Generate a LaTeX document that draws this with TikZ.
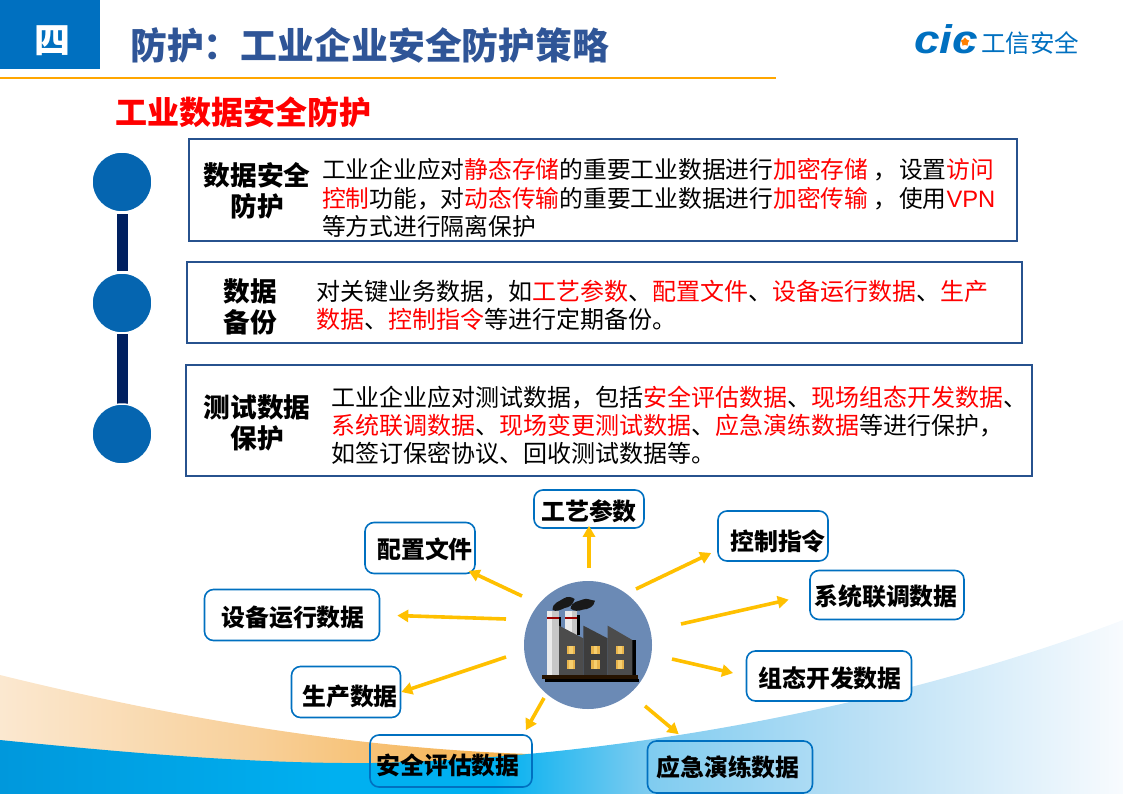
\documentclass[tikz,border=0pt]{standalone}
\usepackage{fontspec}
\usepackage{xcolor}
\setmainfont{Noto Sans CJK SC}
\newfontfamily\logofont{Liberation Sans}
\usetikzlibrary{positioning, arrows.meta, shapes.geometric, calc}
\definecolor{headblue}{HTML}{0070C0}
\definecolor{titleblue}{HTML}{2F5597}
\definecolor{rowblue}{HTML}{27528E}
\definecolor{linkyellow}{HTML}{FFC000}
\definecolor{dotblue}{HTML}{0565B0}
\definecolor{navybar}{HTML}{002060}
\definecolor{hubblue}{HTML}{6B8AB5}
\definecolor{winlight}{HTML}{F6CE6E}
\definecolor{windark}{HTML}{E8B44C}
\definecolor{wavea}{HTML}{0098DC}
\definecolor{waveb}{HTML}{00B0F0}
\definecolor{wavec}{HTML}{80CCF0}
\definecolor{waved}{HTML}{B8DFF5}
\definecolor{wavee}{HTML}{F8FBFE}
\definecolor{orangea}{HTML}{FBE8D0}
\definecolor{orangeb}{HTML}{F8D09A}
\definecolor{orangec}{HTML}{F5AE45}
\pgfdeclarehorizontalshading{seawave}{100bp}{color(0bp)=(wavea);color(25bp)=(wavea);color(40bp)=(waveb);color(47bp)=(waveb);color(54bp)=(wavec);color(63bp)=(waved);color(75bp)=(wavee);color(100bp)=(wavee)}
\pgfdeclarehorizontalshading{sandwave}{100bp}{color(0bp)=(orangea);color(25bp)=(orangea);color(49bp)=(orangeb);color(75bp)=(orangec);color(100bp)=(orangec)}
\newcommand{\redt}[1]{\textcolor{red}{#1}}
\newcommand{\fsize}[2]{\fontsize{#1}{#2}\selectfont}
\begin{document}
\begin{tikzpicture}[
  x=1pt, y=-1pt,
  font=\fsize{24}{28},
  rowbox/.style={draw=rowblue, line width=2.7pt, fill=white},
  rowhead/.style={font=\fsize{26.7}{31}\bfseries, align=center},
  rowtext/.style={anchor=west, align=left, inner sep=0pt},
  dot/.style={circle, draw=white, line width=1.5pt, fill=dotblue, minimum size=60pt, inner sep=0pt},
  databox/.style={draw=headblue, line width=1.6pt, rounded corners=9pt, fill=white, inner sep=0pt},
  datalabel/.style={font=\fsize{23.9}{26}\bfseries, inner sep=0pt},
  flow/.style={draw=linkyellow, line width=3.6pt, -{Triangle[length=11pt,width=12pt]}}
]
\useasboundingbox (0,0) rectangle (1123,794);

% background waves
\shade[shading=sandwave] (0,675) .. controls (150,712) and (340,748) .. (530,754) -- (530,770) -- (0,770) -- cycle;
\shade[shading=seawave] (0,740) .. controls (120,752) and (250,764) .. (372,763) .. controls (620,758) and (900,705) .. (1123,620) -- (1123,794) -- (0,794) -- cycle;

% header
\fill[headblue] (0,0) rectangle (100,69);
\node[font=\fsize{36}{36}\bfseries, text=white] (numbox) at (52,41) {四};
\node[anchor=west, inner sep=0pt, font=\fsize{36.85}{40}\bfseries, text=titleblue] (title) at (130,45) {防护：工业企业安全防护策略};
\draw[draw=orange!70!yellow, line width=2pt] (0,78) -- (776,78);
\node[anchor=west, inner sep=0pt, font=\fsize{32}{36}\bfseries, text=red] (subtitle) at (115,112) {工业数据安全防护};

% logo
\node[anchor=base west, inner sep=0pt, font=\logofont\fsize{40}{40}\bfseries\itshape, text=headblue] (logo) at (914,54) {\scalebox{1.15}[1]{cic}};
\node[anchor=west, inner sep=0pt, font=\fsize{24.5}{26}, text=headblue] (logotext) at (981,43) {工信安全};
\node[star, star points=5, fill=orange, minimum size=9pt, inner sep=0pt] (logostar) at (965,42) {};

% timeline
\fill[navybar] (117,214) rectangle (128,271);
\fill[navybar] (117,334) rectangle (128,404);
\node[dot] (dotA) at (122,182) {};
\node[dot] (dotB) at (122,303) {};
\node[dot] (dotC) at (122,434) {};

% row boxes
\draw[rowbox] (189,139) rectangle (1017,241);
\draw[rowbox] (187,262) rectangle (1022,343);
\draw[rowbox] (186,365) rectangle (1032,476);

\node[rowhead] (headA) at (257,191) {数据安全\\防护};
\node[rowtext, font=\fsize{23.75}{28.5}] (textA) at (322,198) {工业企业应对\redt{静态存储}的重要工业数据进行\redt{加密存储} ，\hspace{1.5pt}设置\redt{访问}\\\redt{控制}功能，对\redt{动态传输}的重要工业数据进行\redt{加密传输} ，\hspace{1.5pt}使用\redt{\logofont VPN}\\等方式进行隔离保护};

\node[rowhead] (headB) at (250,307) {数据\\备份};
\node[rowtext] (textB) at (316,305) {对关键业务数据，如\redt{工艺参数}、\redt{配置文件}、\redt{设备运行数据}、\redt{生产}\\\redt{数据}、\redt{控制指令}等进行定期备份。};

\node[rowhead] (headC) at (257,423) {测试数据\\保护};
\node[rowtext] (textC) at (331,425) {工业企业应对测试数据，包括\redt{安全评估数据}、\redt{现场组态开发数据}、\\\redt{系统联调数据}、\redt{现场变更测试数据}、\redt{应急演练数据}等进行保护，\\如签订保密协议、回收测试数据等。};

% data boxes
\node[databox, minimum width=110pt, minimum height=38pt] (gongyi) at (589,509) {};
\node[databox, minimum width=110pt, minimum height=51pt] (peizhi) at (420,548) {};
\node[databox, minimum width=110pt, minimum height=50pt] (kongzhi) at (773,536) {};
\node[databox, minimum width=154pt, minimum height=49pt] (liantiao) at (887,595) {};
\node[databox, minimum width=175pt, minimum height=51pt] (shebei) at (292,615) {};
\node[databox, minimum width=109pt, minimum height=51pt] (shengchan) at (346,692) {};
\node[databox, minimum width=165pt, minimum height=50pt] (zutai) at (829,676) {};
\node[databox, minimum width=162pt, minimum height=52pt, fill=none] (pinggu) at (451,761) {};
\node[databox, minimum width=165pt, minimum height=52pt, fill=none] (yanlian) at (730,767) {};

% data labels
\foreach \nm/\dx/\dy/\lab in {gongyi/0/2/工艺参数, peizhi/5/1/配置文件, kongzhi/5/5/控制指令, liantiao/-1/1/系统联调数据, shebei/1/3/设备运行数据, shengchan/4/5/生产数据, zutai/1/2/组态开发数据, pinggu/-3/4/安全评估数据, yanlian/-2/0/应急演练数据} {
  \node[datalabel] (\nm label) at ([shift={(\dx,\dy)}]\nm.center) {\lab};
}

% factory
\node[circle, fill=hubblue, minimum size=128pt, inner sep=0pt] (hub) at (588,645) {};
\begin{scope}[shift={(500,560)}, x=0.3333pt, y=-0.3333pt]
\fill[black] (177,170) rectangle (184,205);
\fill[black] (232,165) rectangle (239,225);
\fill[black] (397,240) rectangle (407,345);
\fill[black!8] (140,153) rectangle (157,345);
\fill[black!22] (157,153) rectangle (177,345);
\fill[black!8] (196,153) rectangle (215,225);
\fill[black!22] (215,153) rectangle (232,225);
\fill[red!60!black] (140,170) rectangle (177,177);
\fill[red!60!black] (196,170) rectangle (232,177);
\fill[black!70] (177,197) -- (250,235) -- (250,345) -- (177,345) -- cycle;
\fill[black!76] (250,197) -- (323,235) -- (323,345) -- (250,345) -- cycle;
\fill[black!70] (323,197) -- (397,240) -- (397,345) -- (323,345) -- cycle;
\foreach \wx in {200,273,347} {
  \foreach \wy in {257,301} {
    \fill[windark] (\wx,\wy) rectangle (\wx+26,\wy+26);
    \fill[winlight] (\wx+8,\wy) rectangle (\wx+18,\wy+26);
  }
}
\fill[black!85!orange] (125,345) rectangle (415,357);
\fill[black] (135,357) rectangle (418,367);
\fill[black!90] (158,150) .. controls (156,128) and (180,124) .. (190,116) .. controls (202,108) and (214,110) .. (224,117) .. controls (218,136) and (208,142) .. (194,144) .. controls (182,150) and (168,156) .. (158,150) -- cycle;
\fill[black!90] (212,146) .. controls (214,124) and (236,124) .. (250,118) .. controls (260,113) and (276,122) .. (285,122) .. controls (282,140) and (266,148) .. (248,149) .. controls (236,154) and (222,154) .. (212,146) -- cycle;
\end{scope}

% links
\coordinate (fromgongyi) at (589,568);
\coordinate (frompeizhi) at (522,596);
\coordinate (fromkongzhi) at (636,589);
\coordinate (fromliantiao) at (681,624);
\coordinate (fromshebei) at (506,619);
\coordinate (fromshengchan) at (506,657);
\coordinate (fromzutai) at (672,659);
\coordinate (frompinggu) at (544,698);
\coordinate (fromyanlian) at (645,706);
\draw[flow, shorten >=-3pt] (fromgongyi) -- (gongyi.south);
\draw[flow, shorten >=-8pt] (frompeizhi) -- (peizhi);
\draw[flow] (fromkongzhi) -- ($(kongzhi.west)+(-6,17)$);
\draw[flow, shorten >=21pt] (fromliantiao) -- (liantiao.west);
\draw[flow, shorten >=17pt] (fromshebei) -- (shebei.east);
\draw[flow] (fromshengchan) -- (shengchan.east);
\draw[flow, shorten >=13pt] (fromzutai) -- (zutai.west);
\draw[flow] (frompinggu) -- ($(pinggu.north east)+(-7,-4)$);
\draw[flow] (fromyanlian) -- ($(yanlian.north west)+(32,-6)$);
\end{tikzpicture}
\end{document}
